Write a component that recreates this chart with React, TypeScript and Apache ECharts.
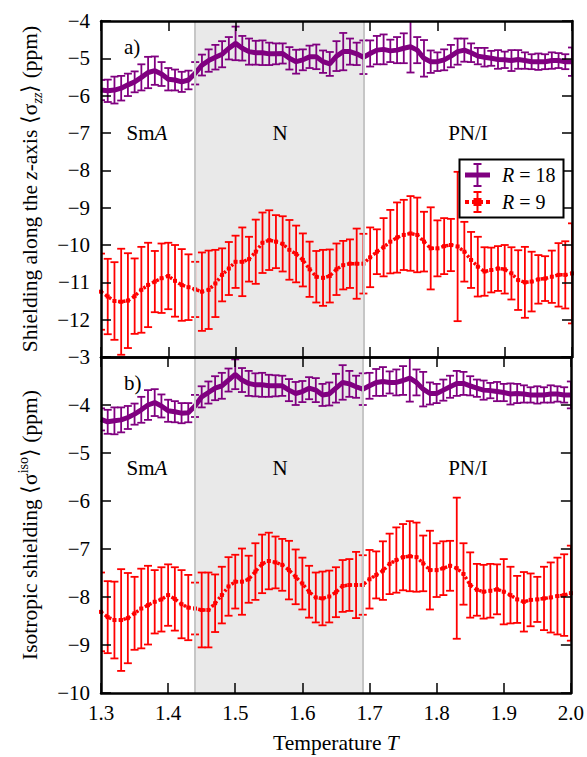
import React, { useEffect, useRef } from 'react';
import * as echarts from 'echarts';

// ---------------- data ----------------
const temperature = [
  1.30, 1.31, 1.32, 1.33, 1.34, 1.35, 1.36, 1.37, 1.38, 1.39,
  1.40, 1.41, 1.42, 1.43, 1.44, 1.45, 1.46, 1.47, 1.48, 1.49,
  1.50, 1.51, 1.52, 1.53, 1.54, 1.55, 1.56, 1.57, 1.58, 1.59,
  1.60, 1.61, 1.62, 1.63, 1.64, 1.65, 1.66, 1.67, 1.68, 1.69,
  1.70, 1.71, 1.72, 1.73, 1.74, 1.75, 1.76, 1.77, 1.78, 1.79,
  1.80, 1.81, 1.82, 1.83, 1.84, 1.85, 1.86, 1.87, 1.88, 1.89,
  1.90, 1.91, 1.92, 1.93, 1.94, 1.95, 1.96, 1.97, 1.98, 1.99, 2.00,
];

// panel a) shielding along z-axis, R = 18
const zzR18 = [
  -5.85, -5.87, -5.85, -5.80, -5.71, -5.63, -5.51, -5.38, -5.33, -5.42,
  -5.56, -5.58, -5.63, -5.58, -5.40, -5.18, -5.06, -4.97, -4.89, -4.73,
  -4.60, -4.73, -4.82, -4.85, -4.85, -4.88, -4.88, -4.87, -5.00, -5.09,
  -5.04, -4.96, -4.96, -5.09, -5.15, -4.94, -4.82, -4.82, -4.88, -4.97,
  -4.87, -4.78, -4.76, -4.80, -4.78, -4.73, -4.69, -4.78, -5.00, -5.09,
  -5.09, -5.04, -4.94, -4.82, -4.78, -4.85, -4.94, -4.97, -5.00, -5.03,
  -5.04, -5.06, -5.03, -5.06, -5.09, -5.09, -5.09, -5.06, -5.06, -5.09, -5.09,
];
const zzR18Err = [
  0.27, 0.30, 0.36, 0.33, 0.30, 0.28, 0.35, 0.42, 0.38, 0.32,
  0.30, 0.28, 0.27, 0.25, 0.30, 0.28, 0.30, 0.33, 0.35, 0.30,
  0.45, 0.33, 0.35, 0.32, 0.33, 0.30, 0.28, 0.27, 0.30, 0.32,
  0.28, 0.30, 0.33, 0.30, 0.32, 0.40, 0.50, 0.35, 0.30, 0.45,
  0.35, 0.38, 0.40, 0.30, 0.35, 0.40, 0.69, 0.35, 0.49, 0.30,
  0.25, 0.28, 0.30, 0.35, 0.31, 0.25, 0.22, 0.25, 0.20, 0.25,
  0.22, 0.28, 0.25, 0.22, 0.20, 0.22, 0.20, 0.22, 0.20, 0.20, 0.38,
];
// panel a) R = 9
const zzR9 = [
  -11.25, -11.38, -11.50, -11.52, -11.49, -11.37, -11.20, -11.07, -10.98, -10.89,
  -10.83, -10.96, -11.07, -11.13, -11.19, -11.25, -11.20, -11.03, -10.80, -10.63,
  -10.45, -10.45, -10.38, -10.18, -9.94, -9.87, -9.91, -9.97, -10.13, -10.24,
  -10.40, -10.65, -10.85, -10.88, -10.83, -10.65, -10.54, -10.50, -10.50, -10.50,
  -10.33, -10.18, -10.06, -9.91, -9.80, -9.73, -9.69, -9.73, -9.91, -10.09,
  -10.09, -10.03, -10.00, -10.04, -10.18, -10.40, -10.58, -10.71, -10.67, -10.63,
  -10.65, -10.76, -10.94, -11.00, -10.98, -10.92, -10.90, -10.85, -10.80, -10.80, -10.76,
];
const zzR9Err = [
  1.02, 1.01, 1.04, 1.42, 1.27, 1.01, 1.15, 1.13, 0.82, 0.93,
  0.89, 0.96, 0.96, 0.88, 0.74, 1.05, 1.05, 0.90, 0.71, 0.71,
  0.70, 0.92, 0.60, 0.86, 0.81, 0.80, 0.71, 0.74, 0.80, 0.76,
  0.71, 0.74, 0.69, 0.75, 0.71, 0.69, 0.65, 0.65, 0.94, 0.80,
  0.80, 0.60, 0.78, 0.85, 0.94, 0.94, 1.00, 1.00, 0.80, 1.10,
  0.75, 0.75, 0.70, 2.00, 0.80, 0.75, 0.80, 0.65, 0.60, 0.60,
  0.65, 0.70, 0.80, 0.95, 0.80, 0.65, 0.60, 0.70, 0.85, 0.90, 1.34,
];

// panel b) isotropic shielding, R = 18
const isoR18 = [
  -4.30, -4.35, -4.33, -4.31, -4.26, -4.19, -4.10, -4.00, -3.95, -4.02,
  -4.12, -4.14, -4.17, -4.16, -4.02, -3.83, -3.74, -3.65, -3.60, -3.48,
  -3.36, -3.48, -3.55, -3.58, -3.58, -3.60, -3.60, -3.60, -3.69, -3.76,
  -3.72, -3.65, -3.69, -3.79, -3.77, -3.65, -3.53, -3.56, -3.62, -3.67,
  -3.60, -3.53, -3.51, -3.53, -3.53, -3.49, -3.44, -3.53, -3.67, -3.76,
  -3.76, -3.69, -3.62, -3.55, -3.55, -3.60, -3.65, -3.69, -3.70, -3.72,
  -3.74, -3.77, -3.76, -3.77, -3.79, -3.79, -3.79, -3.77, -3.77, -3.79, -3.79,
];
const isoR18Err = [
  0.23, 0.25, 0.28, 0.26, 0.24, 0.22, 0.27, 0.31, 0.28, 0.24,
  0.23, 0.22, 0.21, 0.20, 0.23, 0.22, 0.23, 0.25, 0.27, 0.24,
  0.31, 0.25, 0.26, 0.24, 0.25, 0.23, 0.22, 0.21, 0.23, 0.24,
  0.22, 0.23, 0.25, 0.23, 0.24, 0.30, 0.36, 0.27, 0.23, 0.33,
  0.27, 0.28, 0.30, 0.23, 0.27, 0.30, 0.49, 0.27, 0.36, 0.23,
  0.20, 0.22, 0.23, 0.26, 0.24, 0.20, 0.18, 0.20, 0.16, 0.20,
  0.18, 0.22, 0.20, 0.18, 0.16, 0.18, 0.16, 0.18, 0.16, 0.16, 0.28,
];
// panel b) R = 9
const isoR9 = [
  -8.31, -8.42, -8.48, -8.48, -8.44, -8.34, -8.24, -8.17, -8.10, -8.05,
  -7.96, -8.04, -8.15, -8.22, -8.24, -8.27, -8.27, -8.13, -7.96, -7.78,
  -7.68, -7.68, -7.63, -7.47, -7.31, -7.25, -7.28, -7.33, -7.44, -7.58,
  -7.72, -7.89, -8.01, -8.03, -7.99, -7.90, -7.77, -7.75, -7.75, -7.75,
  -7.63, -7.54, -7.45, -7.31, -7.23, -7.17, -7.15, -7.17, -7.30, -7.44,
  -7.44, -7.40, -7.35, -7.40, -7.52, -7.75, -7.85, -7.89, -7.87, -7.84,
  -7.89, -7.96, -8.05, -8.10, -8.06, -8.05, -8.03, -8.01, -7.98, -7.96, -7.92,
];
const isoR9Err = [
  0.82, 0.75, 0.80, 1.06, 0.94, 0.76, 0.83, 0.82, 0.66, 0.67,
  0.64, 0.66, 0.71, 0.68, 0.54, 0.78, 0.78, 0.60, 0.59, 0.61,
  0.56, 0.69, 0.49, 0.59, 0.61, 0.59, 0.54, 0.54, 0.61, 0.57,
  0.54, 0.54, 0.52, 0.56, 0.54, 0.52, 0.54, 0.54, 0.69, 0.62,
  0.61, 0.49, 0.61, 0.63, 0.68, 0.69, 0.73, 0.72, 0.58, 0.82,
  0.56, 0.56, 0.52, 1.47, 0.64, 0.68, 0.54, 0.56, 0.56, 0.52,
  0.68, 0.59, 0.49, 0.62, 0.55, 0.47, 0.66, 0.73, 0.80, 0.85, 0.99,
];

const nematicRange = [1.44, 1.69];
const xTicks = { min: 1.3, max: 2.0, interval: 0.1 };
const yRangeA = { min: -13, max: -4, interval: 1 };
const yRangeB = { min: -10, max: -3, interval: 1 };

// ---------------- styles ----------------
const FONT = 'Liberation Serif';
const PURPLE = '#800080';
const RED = '#ff0000';
const FS = 21;
const NFS = 21.5;

const richBase = {
  n: { fontFamily: FONT, fontSize: NFS, color: '#000', lineHeight: 28 },
  i: { fontFamily: FONT, fontSize: NFS, color: '#000', fontStyle: 'italic', lineHeight: 28 },
  sub: { fontFamily: FONT, fontSize: 14, color: '#000', fontStyle: 'italic', lineHeight: 13, verticalAlign: 'bottom' },
  sup: { fontFamily: FONT, fontSize: 14, color: '#000', lineHeight: 13, verticalAlign: 'top' },
};

const minusFmt = (v: number) => {
  if (v === yRangeA.min) return '';
  return v < 0 ? '\u2212' + Math.abs(v) : String(v);
};

function xAxis(gridIndex: number, position: 'top' | 'bottom', withLabels: boolean, name?: string) {
  return {
    type: 'value',
    gridIndex,
    position,
    ...xTicks,
    z: 10,
    name: name || '',
    nameLocation: 'middle',
    nameGap: 36,
    nameTextStyle: { fontFamily: FONT, fontSize: NFS, color: '#000', rich: richBase },
    axisLine: { show: true, onZero: false, lineStyle: { color: '#000', width: 2.5 } },
    axisTick: { show: true, inside: true, length: 10, lineStyle: { color: '#000', width: 1.5 } },
    axisLabel: {
      show: withLabels,
      fontFamily: FONT,
      fontSize: FS,
      color: '#000',
      margin: 9,
      formatter: (v: number) => v.toFixed(1),
    },
    splitLine: { show: false },
  };
}

function yAxis(gridIndex: number, position: 'left' | 'right', range: any, name?: string) {
  return {
    type: 'value',
    gridIndex,
    position,
    ...range,
    z: 10,
    name: name || '',
    nameLocation: 'middle',
    nameGap: 57,
    nameTextStyle: { fontFamily: FONT, fontSize: NFS, color: '#000', rich: richBase },
    axisLine: { show: true, onZero: false, lineStyle: { color: '#000', width: 2.5 } },
    axisTick: { show: true, inside: true, length: 10, lineStyle: { color: '#000', width: 1.5 } },
    axisLabel: {
      show: position === 'left',
      fontFamily: FONT,
      fontSize: FS,
      color: '#000',
      margin: 11,
      formatter: minusFmt,
    },
    splitLine: { show: false },
  };
}

function errorBars(mean: number[], err: number[], color: string, axisIndex: number, z: number) {
  const data = temperature.map((t, i) => [t, mean[i] - err[i], mean[i] + err[i]]);
  return {
    type: 'custom',
    xAxisIndex: axisIndex * 2,
    yAxisIndex: axisIndex * 2,
    z,
    clip: true,
    silent: true,
    encode: { x: 0, y: [1, 2] },
    data,
    renderItem: (params: any, api: any) => {
      const x = api.value(0);
      const lo = api.value(1);
      const hi = api.value(2);
      const p1 = api.coord([x, hi]);
      const p2 = api.coord([x, lo]);
      const w = 4;
      const style = { stroke: color, lineWidth: 1.8, fill: 'none' };
      return {
        type: 'group',
        children: [
          { type: 'line', shape: { x1: p1[0], y1: p1[1], x2: p2[0], y2: p2[1] }, style },
          { type: 'line', shape: { x1: p1[0] - w, y1: p1[1], x2: p1[0] + w, y2: p1[1] }, style },
          { type: 'line', shape: { x1: p2[0] - w, y1: p2[1], x2: p2[0] + w, y2: p2[1] }, style },
        ],
      };
    },
  };
}

function purpleLine(mean: number[], axisIndex: number) {
  return {
    type: 'line',
    xAxisIndex: axisIndex * 2,
    yAxisIndex: axisIndex * 2,
    z: 4,
    silent: true,
    symbol: 'none',
    data: temperature.map((t, i) => [t, mean[i]]),
    lineStyle: { color: PURPLE, width: 5 },
    itemStyle: { color: PURPLE },
  };
}

function redLine(mean: number[], axisIndex: number) {
  return {
    type: 'line',
    xAxisIndex: axisIndex * 2,
    yAxisIndex: axisIndex * 2,
    z: 4,
    silent: true,
    symbol: 'rect',
    symbolSize: 4,
    data: temperature.map((t, i) => [t, mean[i]]),
    lineStyle: { color: RED, width: 3.5, type: [2.5, 2.5] },
    itemStyle: { color: RED },
  };
}

function shading(axisIndex: number) {
  return {
    type: 'line',
    xAxisIndex: axisIndex * 2,
    yAxisIndex: axisIndex * 2,
    z: 1,
    silent: true,
    symbol: 'none',
    data: [],
    markArea: {
      silent: true,
      itemStyle: { color: '#e9e9e9', borderWidth: 0 },
      data: [[{ xAxis: nematicRange[0] }, { xAxis: nematicRange[1] }]],
    },
    markLine: {
      silent: true,
      symbol: 'none',
      label: { show: false },
      lineStyle: { color: '#c6c6c6', width: 2, type: 'solid' },
      data: [{ xAxis: nematicRange[0] }, { xAxis: nematicRange[1] }],
    },
  };
}

function label(text: string, x: number, y: number, align = 'center', size = FS) {
  return {
    type: 'text',
    x,
    y,
    z: 50,
    style: {
      text,
      fontFamily: FONT,
      fontSize: size,
      fill: '#000',
      align,
      verticalAlign: 'middle',
      rich: {
        n: { fontFamily: FONT, fontSize: size, fill: '#000' },
        i: { fontFamily: FONT, fontSize: size, fill: '#000', fontStyle: 'italic' },
      },
    },
  };
}

function legendGraphic() {
  const g: any[] = [];
  g.push({
    type: 'rect', z: 100,
    shape: { x: 459.5, y: 159.5, width: 104, height: 58 },
    style: { fill: '#fff', stroke: '#000', lineWidth: 2 },
  });
  // R = 18 entry
  const y1 = 175;
  g.push({ type: 'line', z: 101, shape: { x1: 465, y1, x2: 490, y2: y1 }, style: { stroke: PURPLE, lineWidth: 5 } });
  g.push({ type: 'line', z: 101, shape: { x1: 477.5, y1: y1 - 11, x2: 477.5, y2: y1 + 11 }, style: { stroke: PURPLE, lineWidth: 2 } });
  g.push({ type: 'line', z: 101, shape: { x1: 473.5, y1: y1 - 11, x2: 481.5, y2: y1 - 11 }, style: { stroke: PURPLE, lineWidth: 2 } });
  g.push({ type: 'line', z: 101, shape: { x1: 473.5, y1: y1 + 11, x2: 481.5, y2: y1 + 11 }, style: { stroke: PURPLE, lineWidth: 2 } });
  // R = 9 entry
  const y2 = 202;
  g.push({ type: 'line', z: 101, shape: { x1: 465, y1: y2, x2: 490, y2 }, style: { stroke: RED, lineWidth: 4, lineDash: [4, 3] } });
  g.push({ type: 'rect', z: 102, shape: { x: 473.5, y: y2 - 4, width: 8, height: 8 }, style: { fill: RED } });
  g.push({ type: 'line', z: 101, shape: { x1: 477.5, y1: y2 - 10, x2: 477.5, y2: y2 + 10 }, style: { stroke: RED, lineWidth: 2 } });
  g.push({ type: 'line', z: 101, shape: { x1: 473.5, y1: y2 - 10, x2: 481.5, y2: y2 - 10 }, style: { stroke: RED, lineWidth: 2 } });
  g.push({ type: 'line', z: 101, shape: { x1: 473.5, y1: y2 + 10, x2: 481.5, y2: y2 + 10 }, style: { stroke: RED, lineWidth: 2 } });
  const t1 = label('{i|R} = 18', 502, y1, 'left', 20);
  const t2 = label('{i|R} = 9', 502, y2, 'left', 20);
  t1.z = 103;
  t2.z = 103;
  g.push(t1, t2);
  return g;
}

export default function App() {
  const ref = useRef<HTMLDivElement>(null);
  useEffect(() => {
    if (!ref.current) return;
    const chart = echarts.init(ref.current, null, { renderer: 'svg' });
    const option: any = {
      animation: false,
      backgroundColor: '#fff',
      textStyle: { fontFamily: FONT },
      grid: [
        { left: 101, top: 21, width: 471, height: 336 },
        { left: 101, top: 357, width: 471, height: 336 },
      ],
      xAxis: [
        xAxis(0, 'bottom', false),
        xAxis(0, 'top', false),
        xAxis(1, 'bottom', true, 'Temperature {i|T}'),
        xAxis(1, 'top', false),
      ],
      yAxis: [
        yAxis(0, 'left', yRangeA, '{n|Shielding along the }{i|z}{n|-axis \u27E8\u03C3}{sub|zz}{n|\u27E9 (ppm)}'),
        yAxis(0, 'right', yRangeA),
        yAxis(1, 'left', yRangeB, '{n|Isotropic shielding \u27E8\u03C3}{sup|iso}{n|\u27E9 (ppm)}'),
        yAxis(1, 'right', yRangeB),
      ],
      series: [
        shading(0),
        errorBars(zzR9, zzR9Err, RED, 0, 3),
        redLine(zzR9, 0),
        errorBars(zzR18, zzR18Err, PURPLE, 0, 3),
        purpleLine(zzR18, 0),
        shading(1),
        errorBars(isoR9, isoR9Err, RED, 1, 3),
        redLine(isoR9, 1),
        errorBars(isoR18, isoR18Err, PURPLE, 1, 3),
        purpleLine(isoR18, 1),
      ],
      graphic: [
        label('a)', 124, 47, 'left'),
        label('Sm{i|A}', 147, 133),
        label('N', 280, 133),
        label('PN/I', 468, 133),
        label('b)', 124, 383, 'left'),
        label('Sm{i|A}', 147, 468),
        label('N', 280, 468),
        label('PN/I', 468, 468),
        ...legendGraphic(),
      ],
    };
    chart.setOption(option);
    return () => chart.dispose();
  }, []);
  return (
    <div style={{ position: 'absolute', left: 0, top: 0, width: 587, height: 757, background: '#fff' }}>
      <div ref={ref} style={{ width: 587, height: 757 }} />
    </div>
  );
}
